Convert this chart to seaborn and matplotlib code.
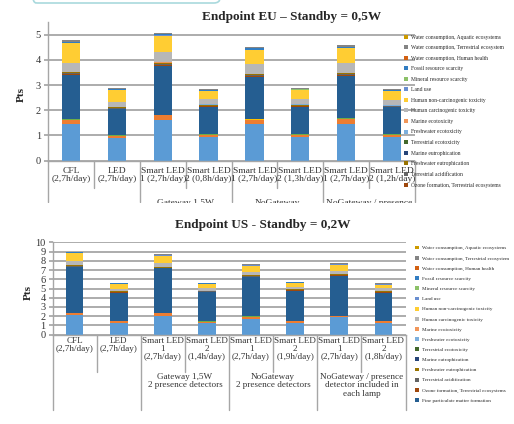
import matplotlib
matplotlib.use('Agg')
import matplotlib.pyplot as plt
from matplotlib.patches import Patch, FancyBboxPatch, Rectangle
from matplotlib.transforms import blended_transform_factory
import numpy as np
import pandas as pd
import seaborn as sns

# ---------------------------------------------------------------------------
# ReCiPe endpoint categories (stack order, bottom -> top) and Excel colours
# ---------------------------------------------------------------------------
SERIES = [
    'Global warming, Human health', 'Global warming, Terrestrial ecosystems',
    'Global warming, Freshwater ecosystems', 'Stratospheric ozone depletion',
    'Ionizing radiation', 'Ozone formation, Human health',
    'Fine particulate matter formation', 'Ozone formation, Terrestrial ecosystems',
    'Terrestrial acidification', 'Freshwater eutrophication', 'Marine eutrophication',
    'Terrestrial ecotoxicity', 'Freshwater ecotoxicity', 'Marine ecotoxicity',
    'Human carcinogenic toxicity', 'Human non-carcinogenic toxicity', 'Land use',
    'Mineral resource scarcity', 'Fossil resource scarcity',
    'Water consumption, Human health', 'Water consumption, Terrestrial ecosystem',
    'Water consumption, Aquatic ecosystems',
]
COLORS = ['#5B9BD5', '#ED7D31', '#A5A5A5', '#FFC000', '#4472C4', '#70AD47',
          '#255E91', '#9E480E', '#636363', '#997300', '#264478', '#43682B',
          '#7CAFDD', '#F1975A', '#B7B7B7', '#FFCD33', '#698ED0', '#8CC168',
          '#327DC2', '#D26012', '#848484', '#CC9A00']

EU_LABELS = ['CFL\n(2,7h/day)', 'LED\n(2,7h/day)', 'Smart LED\n1 (2,7h/day)',
             'Smart LED\n2 (0,8h/day)', 'Smart LED\n1 (2,7h/day)', 'Smart LED\n2 (1,3h/day)',
             'Smart LED\n1 (2,7h/day)', 'Smart LED\n2 (1,2h/day)']
US_LABELS = ['CFL\n(2,7h/day)', 'LED\n(2,7h/day)', 'Smart LED\n1\n(2,7h/day)',
             'Smart LED\n2\n(1,4h/day)', 'Smart LED\n1\n(2,7h/day)', 'Smart LED\n2\n(1,9h/day)',
             'Smart LED\n1\n(2,7h/day)', 'Smart LED\n2\n(1,8h/day)']
EU_GROUPS = ['Gateway 1,5W', 'NoGateway', 'NoGateway / presence']
US_GROUPS = ['Gateway 1,5W\n2 presence detectors', 'NoGateway\n2 presence detectors',
             'NoGateway / presence\ndetector included in\neach lamp']

# --- EU, standby 0,5W (Pts) ------------------------------------------------
EU_GW_HH   = [1.47, 0.91, 1.63, 0.93, 1.47, 0.94, 1.47, 0.93]
EU_GW_TE   = [0.14, 0.08, 0.17, 0.10, 0.16, 0.09, 0.18, 0.10]
EU_GW_FW   = [0.002, 0.001, 0.002, 0.001, 0.002, 0.001, 0.002, 0.001]
EU_OZ_DEP  = [0.003, 0.002, 0.003, 0.002, 0.003, 0.002, 0.003, 0.002]
EU_ION     = [0.005, 0.003, 0.005, 0.003, 0.005, 0.003, 0.005, 0.003]
EU_OZF_HH  = [0.015, 0.01, 0.02, 0.01, 0.015, 0.01, 0.015, 0.01]
EU_PM      = [1.77, 1.03, 1.94, 1.09, 1.67, 1.09, 1.69, 1.07]
EU_OZF_TE  = [0.02, 0.014, 0.02, 0.015, 0.018, 0.015, 0.02, 0.012]
EU_T_ACID  = [0.04, 0.028, 0.04, 0.03, 0.036, 0.03, 0.04, 0.024]
EU_FW_EUT  = [0.05, 0.035, 0.05, 0.04, 0.045, 0.04, 0.05, 0.03]
EU_M_EUT   = [0.002, 0.001, 0.002, 0.001, 0.002, 0.001, 0.002, 0.001]
EU_T_ECO   = [0.003, 0.002, 0.003, 0.002, 0.003, 0.002, 0.003, 0.002]
EU_FW_ECO  = [0.008, 0.005, 0.008, 0.006, 0.008, 0.006, 0.008, 0.005]
EU_M_ECO   = [0.007, 0.005, 0.007, 0.006, 0.008, 0.006, 0.007, 0.006]
EU_HC_TOX  = [0.34, 0.22, 0.40, 0.22, 0.39, 0.22, 0.36, 0.21]
EU_HNC_TOX = [0.78, 0.44, 0.66, 0.30, 0.56, 0.36, 0.60, 0.35]
EU_LAND    = [0.012, 0.008, 0.009, 0.008, 0.011, 0.006, 0.012, 0.008]
EU_MIN     = [0.003, 0.002, 0.002, 0.002, 0.003, 0.002, 0.003, 0.002]
EU_FOSSIL  = [0.05, 0.035, 0.04, 0.035, 0.045, 0.025, 0.05, 0.035]
EU_W_HH    = [0.003, 0.002, 0.002, 0.002, 0.003, 0.002, 0.003, 0.002]
EU_W_TE    = [0.05, 0.032, 0.035, 0.032, 0.046, 0.024, 0.05, 0.032]
EU_W_AQ    = [0.002, 0.001, 0.002, 0.001, 0.002, 0.001, 0.002, 0.001]

# --- US, standby 0,2W (Pts) ------------------------------------------------
US_GW_HH   = [2.09, 1.29, 2.05, 1.26, 1.73, 1.29, 1.87, 1.29]
US_GW_TE   = [0.25, 0.15, 0.25, 0.14, 0.21, 0.18, 0.11, 0.18]
US_GW_FW   = [0.002, 0.001, 0.002, 0.001, 0.002, 0.001, 0.002, 0.001]
US_OZ_DEP  = [0.003, 0.002, 0.003, 0.002, 0.003, 0.002, 0.003, 0.002]
US_ION     = [0.005, 0.003, 0.005, 0.003, 0.005, 0.003, 0.005, 0.003]
US_OZF_HH  = [0.03, 0.02, 0.03, 0.04, 0.06, 0.02, 0.05, 0.02]
US_PM      = [4.96, 3.10, 4.85, 3.15, 4.25, 3.28, 4.36, 3.07]
US_OZF_TE  = [0.03, 0.027, 0.027, 0.027, 0.027, 0.027, 0.022, 0.03]
US_T_ACID  = [0.064, 0.054, 0.054, 0.054, 0.054, 0.054, 0.045, 0.064]
US_FW_EUT  = [0.085, 0.072, 0.072, 0.072, 0.072, 0.072, 0.06, 0.085]
US_M_EUT   = [0.003, 0.003, 0.003, 0.003, 0.003, 0.003, 0.002, 0.003]
US_T_ECO   = [0.005, 0.004, 0.004, 0.004, 0.004, 0.004, 0.004, 0.005]
US_FW_ECO  = [0.012, 0.011, 0.011, 0.011, 0.011, 0.011, 0.009, 0.012]
US_M_ECO   = [0.011, 0.011, 0.011, 0.011, 0.011, 0.011, 0.008, 0.011]
US_HC_TOX  = [0.44, 0.25, 0.44, 0.26, 0.39, 0.18, 0.36, 0.26]
US_HNC_TOX = [0.86, 0.50, 0.75, 0.46, 0.65, 0.44, 0.68, 0.39]
US_LAND    = [0.014, 0.015, 0.018, 0.015, 0.018, 0.014, 0.014, 0.018]
US_MIN     = [0.003, 0.003, 0.004, 0.003, 0.004, 0.003, 0.003, 0.004]
US_FOSSIL  = [0.06, 0.065, 0.078, 0.065, 0.078, 0.06, 0.06, 0.078]
US_W_HH    = [0.003, 0.003, 0.004, 0.003, 0.004, 0.003, 0.003, 0.004]
US_W_TE    = [0.058, 0.062, 0.074, 0.062, 0.074, 0.058, 0.058, 0.074]
US_W_AQ    = [0.002, 0.002, 0.002, 0.002, 0.002, 0.002, 0.002, 0.002]

EU_DATA = [EU_GW_HH, EU_GW_TE, EU_GW_FW, EU_OZ_DEP, EU_ION, EU_OZF_HH, EU_PM,
           EU_OZF_TE, EU_T_ACID, EU_FW_EUT, EU_M_EUT, EU_T_ECO, EU_FW_ECO, EU_M_ECO,
           EU_HC_TOX, EU_HNC_TOX, EU_LAND, EU_MIN, EU_FOSSIL, EU_W_HH, EU_W_TE, EU_W_AQ]
US_DATA = [US_GW_HH, US_GW_TE, US_GW_FW, US_OZ_DEP, US_ION, US_OZF_HH, US_PM,
           US_OZF_TE, US_T_ACID, US_FW_EUT, US_M_EUT, US_T_ECO, US_FW_ECO, US_M_ECO,
           US_HC_TOX, US_HNC_TOX, US_LAND, US_MIN, US_FOSSIL, US_W_HH, US_W_TE, US_W_AQ]

GRID = '#A6A6A6'
TXT = '#333333'
W, H = 514, 424

sns.set_theme(style='white')
plt.rcParams['font.family'] = ['Liberation Serif', 'DejaVu Serif']


def stacked_panel(ax, data, ymax, yticks):
    x = np.arange(len(data[0]))
    bottom = np.zeros(len(x))
    for color, vals in zip(COLORS, data):
        df = pd.DataFrame({'x': x, 'y': vals})
        sns.barplot(data=df, x='x', y='y', bottom=bottom.copy(), color=color,
                    width=0.4, saturation=1, errorbar=None, linewidth=0,
                    edgecolor='none', ax=ax)
        bottom += np.array(vals)
    ax.set_xlim(-0.5, 7.5)
    ax.set_ylim(0, ymax)
    ax.set_yticks(yticks)
    ax.set_xticks([])
    ax.set_xlabel('')
    ax.set_ylabel('')
    ax.yaxis.grid(True, color=GRID, lw=1.3)
    ax.set_axisbelow(True)
    for s in ['top', 'right']:
        ax.spines[s].set_visible(False)
    for s in ['left', 'bottom']:
        ax.spines[s].set_color(GRID)
        ax.spines[s].set_linewidth(1.0)
    ax.tick_params(axis='y', left=True, length=3, color=GRID, labelsize=7.5,
                   pad=2, labelcolor=TXT)


def category_axis(ax, labels, groups, lab_y, short_y, long_y, grp_y, fs, ls, gls):
    tr = blended_transform_factory(ax.transData, ax.transAxes)
    for i, lab in enumerate(labels):
        ax.text(i, lab_y, lab, transform=tr, ha='center', va='top',
                fontsize=fs, linespacing=ls, color=TXT)
    for b in np.arange(-0.5, 8.0, 1.0):
        end = long_y if b in (-0.5, 1.5, 3.5, 5.5, 7.5) else short_y
        ax.plot([b, b], [0, end], transform=tr, color=GRID, lw=1.0, clip_on=False)
    for k, g in enumerate(groups):
        ax.text(2.5 + 2 * k, grp_y, g, transform=tr, ha='center', va='top',
                fontsize=fs, linespacing=gls, color=TXT)


fig = plt.figure(figsize=(W / 100, H / 100), dpi=100)

# --- top panel: EU ---------------------------------------------------------
ax1 = fig.add_axes([48 / W, 1 - 160.7 / H, 367 / W, 138.7 / H])
stacked_panel(ax1, EU_DATA, 5.5, range(6))
category_axis(ax1, EU_LABELS, EU_GROUPS, lab_y=-0.045, short_y=-0.197,
              long_y=-0.298, grp_y=-0.277, fs=6.8, ls=1.05, gls=1.05)
fig.text(292 / W, 1 - 17 / H, 'Endpoint EU \u2013 Standby = 0,5W', ha='center',
         va='center', fontsize=9.5, weight='bold')
fig.text(21 / W, 1 - 95 / H, 'Pts', rotation=90, ha='center', va='center',
         fontsize=8, weight='bold')
h_top = [Patch(facecolor=COLORS[i], edgecolor='none') for i in range(21, 6, -1)]
fig.legend(h_top, [SERIES[i] for i in range(21, 6, -1)], loc='upper left',
           bbox_to_anchor=(404 / W, 1 - 34.5 / H), frameon=False, fontsize=4.0,
           handlelength=0.75, handleheight=0.75, handletextpad=0.45,
           labelspacing=1.0, borderpad=0, borderaxespad=0)

# the chart area of the EU panel cuts its group labels off
fig.patches.append(Rectangle((0, 1 - 210 / H), 1, 6.5 / H, transform=fig.transFigure,
                             fc='white', ec='none', zorder=5))

# --- bottom panel: US ------------------------------------------------------
ax2 = fig.add_axes([52.5 / W, 1 - 334.7 / H, 353 / W, 92.4 / H])
stacked_panel(ax2, US_DATA, 10, range(11))
category_axis(ax2, US_LABELS, US_GROUPS, lab_y=-0.025, short_y=-0.404,
              long_y=-0.815, grp_y=-0.41, fs=6.6, ls=0.98, gls=1.12)
fig.text(263 / W, 1 - 225 / H, 'Endpoint US - Standby = 0,2W', ha='center',
         va='center', fontsize=9.5, weight='bold')
fig.text(28 / W, 1 - 292 / H, 'Pts', rotation=90, ha='center', va='center',
         fontsize=8, weight='bold')
h_bot = [Patch(facecolor=COLORS[i], edgecolor='none') for i in range(21, 5, -1)]
fig.legend(h_bot, [SERIES[i] for i in range(21, 5, -1)], loc='upper left',
           bbox_to_anchor=(415 / W, 1 - 245.5 / H), frameon=False, fontsize=3.7,
           handlelength=0.8, handleheight=0.8, handletextpad=0.5,
           labelspacing=1.05, borderpad=0, borderaxespad=0)

# leftover text box outline at the top edge
fig.patches.append(FancyBboxPatch((30 / W, 1 - 3 / H), 190 / W, 0.1,
                                  boxstyle='round,pad=0,rounding_size=0.012',
                                  transform=fig.transFigure, fc='none',
                                  ec='#A9D9DD', lw=1.2, clip_on=False))

fig.savefig('out.png', dpi=100)
plt.close(fig)
